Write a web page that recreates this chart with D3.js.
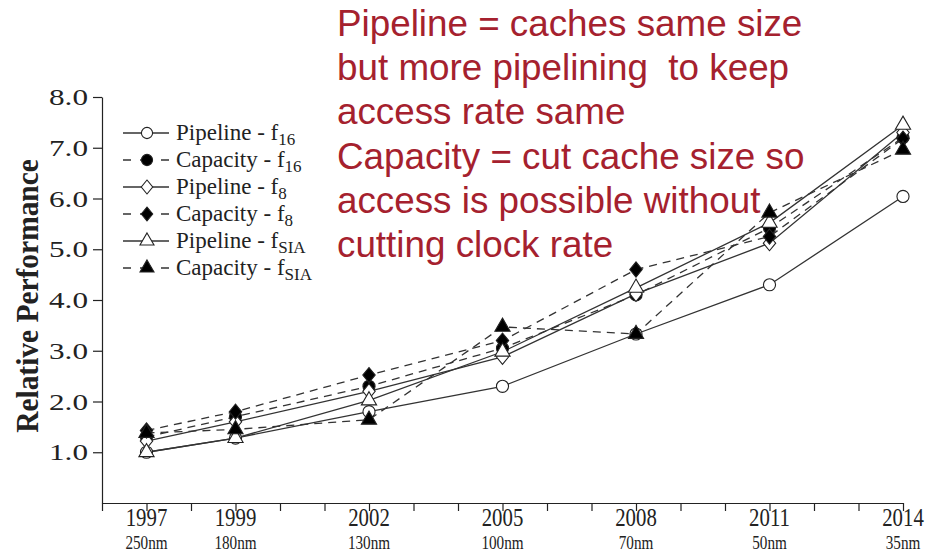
<!DOCTYPE html>
<html>
<head>
<meta charset="utf-8">
<script src="https://cdn.jsdelivr.net/npm/d3@7"></script>
<style>
  body { margin: 0; background: #fff; }
  svg { display: block; }
</style>
</head>
<body>
<svg id="chart" width="935" height="553"></svg>
<script>
// values
var years = [1997, 1999, 2002, 2005, 2008, 2011, 2014];
var nodes = ["250nm", "180nm", "130nm", "100nm", "70nm", "50nm", "35nm"];
var pipelineF16 = [1.0, 1.28, 1.8, 2.3, 3.33, 4.3, 6.04];
var capacityF16 = [1.3, 1.7, 2.3, 3.05, 4.1, 5.42, 7.2];
var pipelineF8 = [1.22, 1.6, 2.2, 2.88, 4.12, 5.12, 7.3];
var capacityF8 = [1.43, 1.8, 2.52, 3.2, 4.6, 5.25, 7.18];
var pipelineFSIA = [1.0, 1.28, 2.02, 2.98, 4.24, 5.52, 7.45];
var capacityFSIA = [1.38, 1.45, 1.64, 3.47, 3.33, 5.72, 6.96];
var yTicks = [1, 2, 3, 4, 5, 6, 7, 8];
var notes = [
  "Pipeline = caches same size",
  "but more pipelining  to keep",
  "access rate same",
  "Capacity = cut cache size so",
  "access is possible without",
  "cutting clock rate"
];

// squarer diamond than d3.symbolDiamond
var diamond = {
  draw: function(ctx, size) {
    var r = Math.sqrt(size / 2);
    ctx.moveTo(0, -r * 1.1);
    ctx.lineTo(r * 0.9, 0);
    ctx.lineTo(0, r * 1.1);
    ctx.lineTo(-r * 0.9, 0);
    ctx.closePath();
  }
};

var series = [
  { name: "Pipeline - f", sub: "16", values: pipelineF16, shape: d3.symbolCircle, size: 115, filled: false, dashed: false },
  { name: "Capacity - f", sub: "16", values: capacityF16, shape: d3.symbolCircle, size: 115, filled: true, dashed: true },
  { name: "Pipeline - f", sub: "8", values: pipelineF8, shape: diamond, size: 95, filled: false, dashed: false },
  { name: "Capacity - f", sub: "8", values: capacityF8, shape: diamond, size: 95, filled: true, dashed: true },
  { name: "Pipeline - f", sub: "SIA", values: pipelineFSIA, shape: d3.symbolTriangle, size: 100, filled: false, dashed: false },
  { name: "Capacity - f", sub: "SIA", values: capacityFSIA, shape: d3.symbolTriangle, size: 100, filled: true, dashed: true }
];

var svg = d3.select("#chart");
var serif = "'Liberation Serif', 'Times New Roman', serif";

var x = d3.scaleLinear().domain([1996, 2014]).range([102, 903]);
var y = d3.scaleLinear().domain([0, 8]).range([503, 97]);

// y axis (the labels in the picture are stretched wide)
var yAxis = svg.append("g")
  .attr("transform", "translate(102,0)")
  .call(d3.axisLeft(y).tickValues(yTicks).tickFormat(d3.format(".1f")).tickSize(9).tickSizeOuter(0));
yAxis.selectAll("text")
  .attr("x", 0)
  .attr("transform", "translate(-14,0) scale(1.3,1)")
  .style("font-family", serif).style("font-size", "24px").attr("fill", "#222");
yAxis.selectAll("line, path").attr("stroke", "#222").attr("stroke-width", 1.2);

// x axis, a tick every year, labels on the sampled years
var allYears = d3.range(1996, 2015);
var xAxis = svg.append("g")
  .attr("transform", "translate(0,503)")
  .call(d3.axisBottom(x).tickValues(allYears).tickFormat("").tickSize(8).tickSizeOuter(0));
xAxis.selectAll("line, path").attr("stroke", "#222").attr("stroke-width", 1.2);

// labels are narrow in the picture, so squeeze them
var xl = svg.append("g").selectAll("g")
  .data(years)
  .enter().append("g")
  .attr("transform", function(d) { return "translate(" + x(d) + ",0)"; });
xl.append("text")
  .attr("transform", "translate(0,526) scale(0.8,1)")
  .attr("text-anchor", "middle")
  .attr("fill", "#222")
  .style("font-family", serif)
  .style("font-size", "26px")
  .text(function(d) { return d; });
xl.append("text")
  .attr("transform", "translate(0,549) scale(0.8,1)")
  .attr("text-anchor", "middle")
  .attr("fill", "#222")
  .style("font-family", serif)
  .style("font-size", "19px")
  .text(function(d, i) { return nodes[i]; });

// y label
svg.append("text")
  .attr("transform", "translate(38,296) rotate(-90) scale(0.92,1)")
  .attr("text-anchor", "middle")
  .attr("fill", "#222")
  .style("font-family", serif)
  .style("font-size", "32px")
  .style("font-weight", "bold")
  .text("Relative Performance");

// lines
var line = d3.line()
  .x(function(d, i) { return x(years[i]); })
  .y(function(d) { return y(d); });

svg.append("g").selectAll("path")
  .data(series)
  .enter().append("path")
  .attr("d", function(s) { return line(s.values); })
  .attr("fill", "none")
  .attr("stroke", "#333")
  .attr("stroke-width", 1.3)
  .attr("stroke-dasharray", function(s) { return s.dashed ? "8,6" : null; });

// markers
series.forEach(function(s) {
  svg.append("g").selectAll("path")
    .data(s.values)
    .enter().append("path")
    .attr("transform", function(d, i) { return "translate(" + x(years[i]) + "," + y(d) + ")"; })
    .attr("d", d3.symbol().type(s.shape).size(s.size))
    .attr("fill", s.filled ? "#000" : "#fff")
    .attr("stroke", "#222")
    .attr("stroke-width", 1.1);
});

// legend
var legend = svg.append("g").attr("transform", "translate(123,133)");
var rows = legend.selectAll("g")
  .data(series)
  .enter().append("g")
  .attr("transform", function(d, i) { return "translate(0," + (i * 27) + ")"; });
rows.append("line")
  .attr("x1", 0).attr("x2", 46).attr("y1", 0).attr("y2", 0)
  .attr("stroke", "#333")
  .attr("stroke-width", 1.3)
  .attr("stroke-dasharray", function(s) { return s.dashed ? "8,9,12,9,8" : null; });
rows.append("path")
  .attr("transform", "translate(24,0)")
  .attr("d", function(s) { return d3.symbol().type(s.shape).size(s.size * 0.85)(); })
  .attr("fill", function(s) { return s.filled ? "#000" : "#fff"; })
  .attr("stroke", "#222")
  .attr("stroke-width", 1.1);
var lt = rows.append("text")
  .attr("x", 53)
  .attr("y", 7)
  .attr("fill", "#222")
  .style("font-family", serif)
  .style("font-size", "23px");
lt.append("tspan").text(function(s) { return s.name; });
lt.append("tspan")
  .attr("dy", 5)
  .style("font-size", "17px")
  .text(function(s) { return s.sub; });

// red notes
svg.append("g").selectAll("text")
  .data(notes)
  .enter().append("text")
  .attr("x", 337)
  .attr("y", function(d, i) { return 36 + i * 44.2; })
  .attr("fill", "#a5212e")
  .style("font-family", "'Liberation Sans', Arial, sans-serif")
  .style("font-size", "36.8px")
  .style("white-space", "pre")
  .text(function(d) { return d; });
</script>
</body>
</html>
